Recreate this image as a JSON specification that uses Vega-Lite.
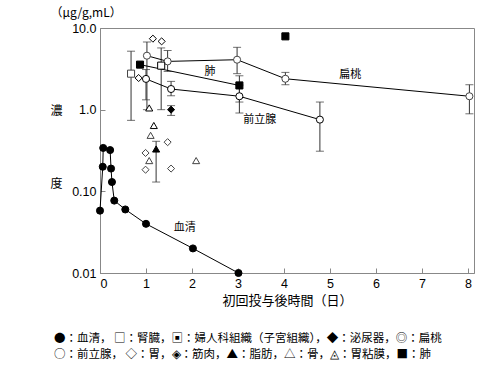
{
  "$schema": "https://vega.github.io/schema/vega-lite/v6.json",
  "width": 374,
  "height": 245,
  "autosize": {"type": "none"},
  "padding": {"left": 100, "top": 28, "right": 26, "bottom": 97},
  "background": "white",
  "config": {
    "view": {"stroke": "#888", "strokeWidth": 1},
    "axis": {
      "grid": false,
      "domainColor": "#888",
      "tickColor": "#888",
      "labelColor": "black",
      "labelFont": "Liberation Sans",
      "labelFontSize": 12.5,
      "titleColor": "black",
      "titleFont": "Noto Sans CJK JP",
      "titleFontWeight": "normal"
    }
  },
  "title": {
    "text": ["●：血清，  □：腎臓，▣：婦人科組織（子宮組織），◆：泌尿器，◎：扁桃", "○：前立腺，  ◇：胃，◈：筋肉，▲：脂肪，△：骨，◬：胃粘膜，■：肺"],
    "orient": "bottom",
    "anchor": "start",
    "frame": "group",
    "align": "left",
    "baseline": "top",
    "dx": -46,
    "offset": 26,
    "font": "Noto Sans CJK JP",
    "fontSize": 11.5,
    "fontWeight": "normal",
    "lineHeight": 16,
    "color": "black"
  },
  "datasets": {
    "pts": [
      {"series": "血清", "x": 0, "y": 0.058, "line": "血清"},
      {"series": "血清", "x": 0.06, "y": 0.2, "line": "血清"},
      {"series": "血清", "x": 0.07, "y": 0.34, "line": "血清"},
      {"series": "血清", "x": 0.22, "y": 0.32, "line": "血清"},
      {"series": "血清", "x": 0.24, "y": 0.19, "line": "血清"},
      {"series": "血清", "x": 0.26, "y": 0.13, "line": "血清"},
      {"series": "血清", "x": 0.31, "y": 0.077, "line": "血清"},
      {"series": "血清", "x": 0.55, "y": 0.06, "line": "血清"},
      {"series": "血清", "x": 1.0, "y": 0.04, "line": "血清"},
      {"series": "血清", "x": 2.02, "y": 0.02, "line": "血清"},
      {"series": "血清", "x": 3.01, "y": 0.01, "line": "血清"},
      {"series": "婦人科組織", "x": 0.675, "y": 2.76, "lo": 0.74, "hi": 5.2},
      {"series": "胃", "x": 0.84, "y": 2.44},
      {"series": "胃", "x": 1.15, "y": 7.4},
      {"series": "胃", "x": 1.34, "y": 6.86},
      {"series": "肺", "x": 0.87, "y": 3.56, "line": "肺"},
      {"series": "肺", "x": 3.03, "y": 1.98, "lo": 1.24, "hi": 2.6, "line": "肺"},
      {"series": "肺", "x": 4.03, "y": 7.9},
      {"series": "扁桃", "x": 1.02, "y": 4.58, "lo": 1.0, "hi": 6.74, "line": "扁桃"},
      {"series": "扁桃", "x": 1.47, "y": 3.9, "lo": 2.94, "hi": 5.3, "line": "扁桃"},
      {"series": "扁桃", "x": 2.98, "y": 4.09, "lo": 2.76, "hi": 5.8, "line": "扁桃"},
      {"series": "扁桃", "x": 4.03, "y": 2.39, "lo": 2.02, "hi": 2.86, "line": "扁桃"},
      {"series": "扁桃", "x": 8.03, "y": 1.46, "lo": 0.89, "hi": 2.02, "line": "扁桃"},
      {"series": "前立腺", "x": 1.0, "y": 2.38, "lo": 1.32, "hi": 3.1, "line": "前立腺"},
      {"series": "前立腺", "x": 1.545, "y": 1.79, "lo": 1.48, "hi": 2.22, "line": "前立腺"},
      {"series": "前立腺", "x": 3.03, "y": 1.46, "lo": 0.91, "hi": 2.0, "line": "前立腺"},
      {"series": "前立腺", "x": 4.78, "y": 0.755, "lo": 0.31, "hi": 1.24, "line": "前立腺"},
      {"series": "腎臓", "x": 1.33, "y": 3.46, "lo": 1.0, "hi": 5.7},
      {"series": "泌尿器", "x": 1.545, "y": 1.0, "lo": 0.85, "hi": 1.12},
      {"series": "骨", "x": 1.07, "y": 1.05},
      {"series": "骨", "x": 1.17, "y": 0.64},
      {"series": "胃粘膜", "x": 1.1, "y": 0.485},
      {"series": "胃粘膜", "x": 1.07, "y": 0.238},
      {"series": "胃粘膜", "x": 2.09, "y": 0.238},
      {"series": "脂肪", "x": 1.22, "y": 0.33, "lo": 0.13, "hi": 0.41},
      {"series": "筋肉", "x": 0.99, "y": 0.295},
      {"series": "筋肉", "x": 0.99, "y": 0.184},
      {"series": "筋肉", "x": 1.47, "y": 0.4},
      {"series": "筋肉", "x": 1.545, "y": 0.19}
    ],
    "labels": [
      {"label": "肺", "x": 2.39, "y": 2.92},
      {"label": "扁桃", "x": 5.44, "y": 2.68},
      {"label": "前立腺", "x": 3.47, "y": 0.755},
      {"label": "血清", "x": 1.84, "y": 0.036}
    ]
  },
  "layer": [
    {
      "data": {"name": "pts"},
      "transform": [{"filter": "isValid(datum.lo)"}],
      "mark": {"type": "rule", "color": "#333", "strokeWidth": 1},
      "encoding": {
        "x": {"field": "x", "type": "quantitative", "scale": {"domain": [0, 8.13], "nice": false, "zero": false},
          "axis": {"values": [0, 1, 2, 3, 4, 5, 6, 7, 8], "tickSize": -5, "labelPadding": 9, "title": "初回投与後時間（日）", "titleFontSize": 13, "titleY": 27, "titleBaseline": "middle"}},
        "y": {"field": "lo", "type": "quantitative", "scale": {"type": "log", "domain": [0.01, 10], "nice": false},
          "axis": {"values": [0.01, 0.1, 1, 10], "tickSize": -5, "labelPadding": 9,
            "labelExpr": "datum.value >= 9 ? '10.0' : datum.value >= 0.9 ? '1.0' : datum.value >= 0.09 ? '0.10' : '0.01'",
            "title": ["（μg/g,mL）", "\u2800", "\u2800\u2800", "\u2800\u2800\u2800", "濃", "\u2800\u2800\u2800\u2800", "\u2800\u2800\u2800\u2800\u2800", "度"], "titleAngle": 0, "titleAlign": "left", "titleBaseline": "top", "titleLineHeight": 24.5, "titleFontSize": 12, "titleX": -50, "titleY": -21}},
        "y2": {"field": "hi"}
      }
    },
    {
      "data": {"name": "pts"},
      "transform": [{"filter": "isValid(datum.lo)"}, {"fold": ["lo", "hi"], "as": ["end", "cap"]}],
      "mark": {"type": "tick", "orient": "horizontal", "size": 8, "thickness": 1, "color": "#333"},
      "encoding": {
        "x": {"field": "x", "type": "quantitative"},
        "y": {"field": "cap", "type": "quantitative"}
      }
    },
    {
      "data": {"name": "pts"},
      "transform": [{"filter": "isValid(datum.line)"}],
      "mark": {"type": "line", "color": "black", "strokeWidth": 1},
      "encoding": {
        "x": {"field": "x", "type": "quantitative"},
        "y": {"field": "y", "type": "quantitative"},
        "detail": {"field": "line"},
        "order": {"field": "x", "type": "quantitative"}
      }
    },
    {
      "data": {"name": "pts"},
      "mark": {"type": "point", "filled": true, "opacity": 1, "size": 50, "clip": false},
      "encoding": {
        "x": {"field": "x", "type": "quantitative"},
        "y": {"field": "y", "type": "quantitative"},
        "shape": {"field": "series", "type": "nominal", "legend": null,
          "scale": {"domain": ["血清", "腎臓", "婦人科組織", "泌尿器", "扁桃", "前立腺", "胃", "筋肉", "脂肪", "骨", "胃粘膜", "肺"],
            "range": ["circle", "square", "square", "diamond", "circle", "circle", "diamond", "diamond", "triangle-up", "triangle-up", "triangle-up", "square"]}},
        "fill": {"field": "series", "type": "nominal", "legend": null,
          "scale": {"domain": ["血清", "腎臓", "婦人科組織", "泌尿器", "扁桃", "前立腺", "胃", "筋肉", "脂肪", "骨", "胃粘膜", "肺"],
            "range": ["black", "white", "white", "black", "white", "white", "white", "white", "black", "white", "white", "black"]}},
        "stroke": {"field": "series", "type": "nominal", "legend": null,
          "scale": {"domain": ["血清", "腎臓", "婦人科組織", "泌尿器", "扁桃", "前立腺", "胃", "筋肉", "脂肪", "骨", "胃粘膜", "肺"],
            "range": ["black", "black", "#444", "black", "#444", "black", "black", "#444", "black", "black", "#444", "black"]}},
        "strokeWidth": {"field": "series", "type": "nominal", "legend": null,
          "scale": {"domain": ["血清", "腎臓", "婦人科組織", "泌尿器", "扁桃", "前立腺", "胃", "筋肉", "脂肪", "骨", "胃粘膜", "肺"],
            "range": [1, 1, 2.5, 1, 2.5, 1, 1, 2.5, 1, 1, 2.5, 1]}}
      }
    },
    {
      "data": {"name": "labels"},
      "mark": {"type": "text", "font": "Noto Sans CJK JP", "fontSize": 11, "fill": "black"},
      "encoding": {
        "x": {"field": "x", "type": "quantitative"},
        "y": {"field": "y", "type": "quantitative"},
        "text": {"field": "label"}
      }
    }
  ]
}
